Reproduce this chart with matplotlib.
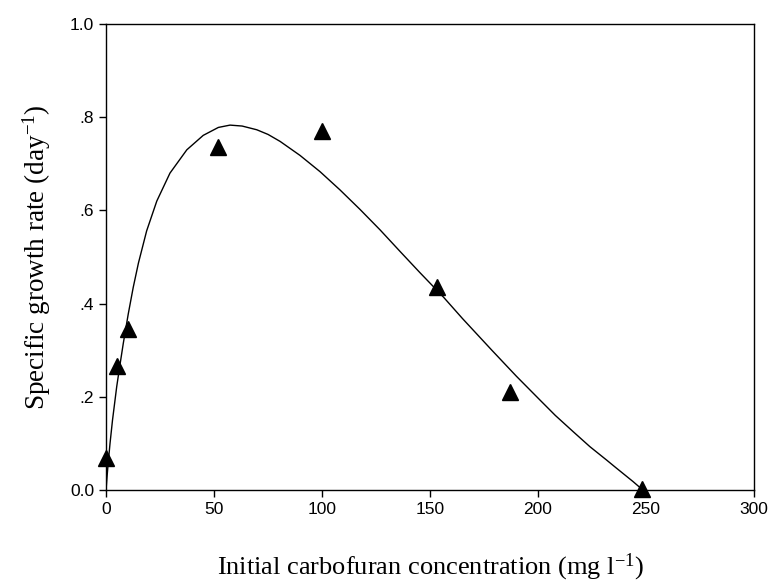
import matplotlib
matplotlib.use('Agg')
import matplotlib.pyplot as plt

# measured points
conc = [0, 5, 10, 52, 100, 153, 187, 248]
rate = [0.068, 0.266, 0.345, 0.736, 0.770, 0.436, 0.210, 0.002]

# fitted curve
curve_x = [0, 0.5, 1.0, 1.85, 3.0, 4.95, 6.5, 8.0, 10.3, 12.6, 15.0, 18.8,
           23.5, 29.6, 37.4, 45.0, 52.0, 57.4, 63.0, 69.8, 75.0, 80.6, 89.8,
           99.1, 108.3, 117.6, 126.9, 136.1, 145.4, 156.2, 165.0, 178.6, 190.0,
           200.9, 208.0, 216.3, 224.0, 231.8, 236.0, 240.0, 244.0, 248.0]
curve_y = [0.0, 0.030, 0.058, 0.100, 0.150, 0.222, 0.270, 0.315, 0.378, 0.435,
           0.487, 0.556, 0.620, 0.680, 0.730, 0.761, 0.778, 0.783, 0.781, 0.773,
           0.763, 0.748, 0.718, 0.683, 0.644, 0.602, 0.558, 0.512, 0.466, 0.414,
           0.368, 0.300, 0.244, 0.193, 0.160, 0.125, 0.093, 0.064, 0.048, 0.033,
           0.018, 0.002]

xticks = [0, 50, 100, 150, 200, 250, 300]
yticks = [0.0, 0.2, 0.4, 0.6, 0.8, 1.0]
ytick_labels = ['0.0', '.2', '.4', '.6', '.8', '1.0']

plt.rcParams['mathtext.fontset'] = 'custom'
plt.rcParams['mathtext.rm'] = 'Liberation Serif'
plt.rcParams['mathtext.it'] = 'Liberation Serif'
plt.rcParams['mathtext.default'] = 'regular'

fig = plt.figure(figsize=(7.7, 5.85), dpi=100)
ax = fig.add_axes([0.1377, 0.1624, 0.8416, 0.7966])

ax.plot(curve_x, curve_y, color='black', linewidth=1.0, zorder=2)
ax.plot(conc, rate, linestyle='none', marker='^', markersize=12,
        color='black', zorder=3, clip_on=False)

ax.set_xlim(0, 300)
ax.set_ylim(0, 1.0)
ax.set_xticks(xticks)
ax.set_yticks(yticks)
ax.set_yticklabels(ytick_labels)
ax.tick_params(direction='out', length=5, width=1, labelsize=12.5,
               top=False, right=False)
for lab in ax.get_xticklabels() + ax.get_yticklabels():
    lab.set_family('Liberation Sans')
for s in ax.spines.values():
    s.set_linewidth(1.0)

ax.set_xlabel('Initial carbofuran concentration (mg l$^{-1}$)',
              family='Liberation Serif', fontsize=19, labelpad=25)
ax.set_ylabel('Specific growth rate (day$^{-1}$)',
              family='Liberation Serif', fontsize=19.5, labelpad=12)

fig.savefig('out.png', dpi=100)
